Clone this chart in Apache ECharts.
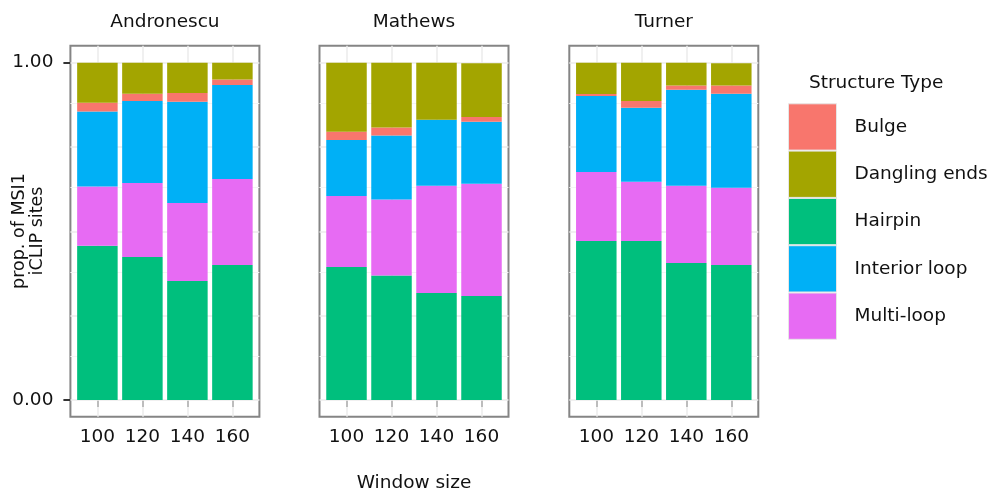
<!DOCTYPE html>
<html><head><meta charset="utf-8">
<script src="https://cdn.jsdelivr.net/npm/echarts@6/dist/echarts.min.js"></script>
<style>html,body{margin:0;padding:0;background:#fff}#c{width:993px;height:491px}</style>
</head><body><div id="c"></div><script>
// ---- data ----
const methods = ['Andronescu', 'Mathews', 'Turner'];
const windows = ['100', '120', '140', '160'];
const structureTypes = ['Bulge', 'Dangling ends', 'Hairpin', 'Interior loop', 'Multi-loop'];
const stackOrder = ['Hairpin', 'Multi-loop', 'Interior loop', 'Bulge', 'Dangling ends'];
// rows: Andronescu, Mathews, Turner; columns: window sizes
const hairpin      = [[0.457, 0.424, 0.353, 0.400], [0.394, 0.369, 0.317, 0.308], [0.471, 0.471, 0.406, 0.400]];
const multiLoop    = [[0.176, 0.219, 0.231, 0.255], [0.211, 0.225, 0.318, 0.333], [0.205, 0.176, 0.229, 0.229]];
const interiorLoop = [[0.222, 0.243, 0.300, 0.279], [0.166, 0.190, 0.196, 0.184], [0.225, 0.219, 0.285, 0.279]];
const bulge        = [[0.026, 0.022, 0.026, 0.016], [0.024, 0.024, 0.000, 0.014], [0.006, 0.020, 0.012, 0.024]];
const danglingEnds = [[0.119, 0.092, 0.090, 0.050], [0.205, 0.192, 0.169, 0.159], [0.093, 0.114, 0.068, 0.066]];
const yTickValues = [0, 1];
const yMajorGrid = [0, 0.25, 0.5, 0.75, 1];
const yMinorGrid = [0.125, 0.375, 0.625, 0.875];

const valuesByType = {
  'Hairpin': hairpin, 'Multi-loop': multiLoop, 'Interior loop': interiorLoop,
  'Bulge': bulge, 'Dangling ends': danglingEnds
};
const colors = {
  'Bulge': '#F8766D', 'Dangling ends': '#A3A500', 'Hairpin': '#00BF7D',
  'Interior loop': '#00B0F6', 'Multi-loop': '#E76BF3'
};

const FONT = "'DejaVu Sans', 'Liberation Sans', Arial, sans-serif";
const FS = 18.5;
const TXT = '#111111';
const panelLeft = [70.4, 319.5, 569.3];
const panelW = 189;
const unit = panelW / 4.2;
const panelTop = 45.8;
const panelH = 371;
const xPos = windows.map((w, i) => i + 1);
const nP = methods.length;

const grids = [], xAxes = [], yAxes = [], series = [], graphics = [];
// outer panel grids: border, gridlines, ticks, labels
methods.forEach((m, k) => {
  grids.push({ left: panelLeft[k], top: panelTop, width: panelW, height: panelH,
    show: true, borderColor: '#858585', borderWidth: 2, backgroundColor: 'transparent' });
  xAxes.push({
    type: 'value', gridIndex: k, min: 0.4, max: 4.6,
    axisLine: { show: false },
    axisTick: { show: true, customValues: xPos, length: 7, lineStyle: { color: '#333', width: 2 } },
    axisLabel: { show: true, customValues: xPos, formatter: v => windows[Math.round(v) - 1],
      fontFamily: FONT, fontSize: FS, color: TXT, margin: 11 },
    splitLine: { show: false }
  });
  yAxes.push({
    type: 'value', gridIndex: k, min: -0.05, max: 1.05,
    axisLine: { show: false },
    axisTick: { show: k === 0, customValues: yTickValues, length: 7, lineStyle: { color: '#333', width: 2 } },
    axisLabel: { show: k === 0, customValues: yTickValues, formatter: v => v.toFixed(2),
      fontFamily: FONT, fontSize: FS, color: TXT, margin: 17 },
    splitLine: { show: false }
  });
  const ml = [];
  yMinorGrid.forEach(v => ml.push({ yAxis: v, lineStyle: { color: '#f4f4f4', width: 1, type: 'solid' } }));
  yMajorGrid.forEach(v => ml.push({ yAxis: v, lineStyle: { color: '#ebebeb', width: 1.5, type: 'solid' } }));
  xPos.forEach(v => ml.push({ xAxis: v, lineStyle: { color: '#ebebeb', width: 1.5, type: 'solid' } }));
  series.push({
    type: 'line', xAxisIndex: k, yAxisIndex: k, data: [], z: 1, silent: true,
    markLine: { silent: true, z: 1, symbol: 'none', label: { show: false }, animation: false, data: ml }
  });
  graphics.push({ type: 'text', x: panelLeft[k] + panelW / 2, y: 22,
    style: { text: m, font: `${FS}px ${FONT}`, fill: TXT, align: 'center', verticalAlign: 'middle',
      textAlign: 'center', textVerticalAlign: 'middle' } });
});
// inner bar grids (category axes)
methods.forEach((m, k) => {
  const gi = nP + k;
  grids.push({ left: panelLeft[k] + 0.6 * unit - unit / 2, top: panelTop, width: 4 * unit, height: panelH, show: false });
  xAxes.push({ type: 'category', gridIndex: gi, data: windows, boundaryGap: true,
    axisLine: { show: false }, axisTick: { show: false }, axisLabel: { show: false }, splitLine: { show: false } });
  yAxes.push({ type: 'value', gridIndex: gi, min: -0.05, max: 1.05,
    axisLine: { show: false }, axisTick: { show: false }, axisLabel: { show: false }, splitLine: { show: false } });
  stackOrder.forEach(t => {
    series.push({
      name: t, type: 'bar', xAxisIndex: gi, yAxisIndex: gi, stack: 'p' + k, z: 10,
      barWidth: '90%',
      itemStyle: { color: colors[t] },
      data: valuesByType[t][k]
    });
  });
});

graphics.push({ type: 'text', x: 414, y: 483,
  style: { text: 'Window size', font: `${FS}px ${FONT}`, fill: TXT, align: 'center', verticalAlign: 'middle',
    textAlign: 'center', textVerticalAlign: 'middle' } });
graphics.push({ type: 'text', x: 28.5, y: 231, rotation: Math.PI / 2,
  style: { text: 'prop. of MSI1\niCLIP sites', font: `17.5px ${FONT}`, lineHeight: 17.5, fill: TXT,
    align: 'center', verticalAlign: 'middle', textAlign: 'center', textVerticalAlign: 'middle' } });
graphics.push({ type: 'text', x: 809, y: 83,
  style: { text: 'Structure Type', font: `${FS}px ${FONT}`, fill: TXT, align: 'left', verticalAlign: 'middle',
    textAlign: 'left', textVerticalAlign: 'middle' } });

const chart = echarts.init(document.getElementById('c'), null, { renderer: 'canvas' });
chart.setOption({
  animation: false,
  backgroundColor: '#ffffff',
  grid: grids, xAxis: xAxes, yAxis: yAxes, series: series,
  legend: {
    data: structureTypes, orient: 'vertical', left: 788, top: 103.3, padding: 0,
    itemWidth: 48, itemHeight: 46.3, itemGap: 0, icon: 'rect', selectedMode: false,
    itemStyle: { borderColor: '#e6e6e6', borderWidth: 1 },
    textStyle: { fontFamily: FONT, fontSize: FS, color: TXT, padding: [0, 0, 0, 13] }
  },
  graphic: graphics
});
</script></body></html>
